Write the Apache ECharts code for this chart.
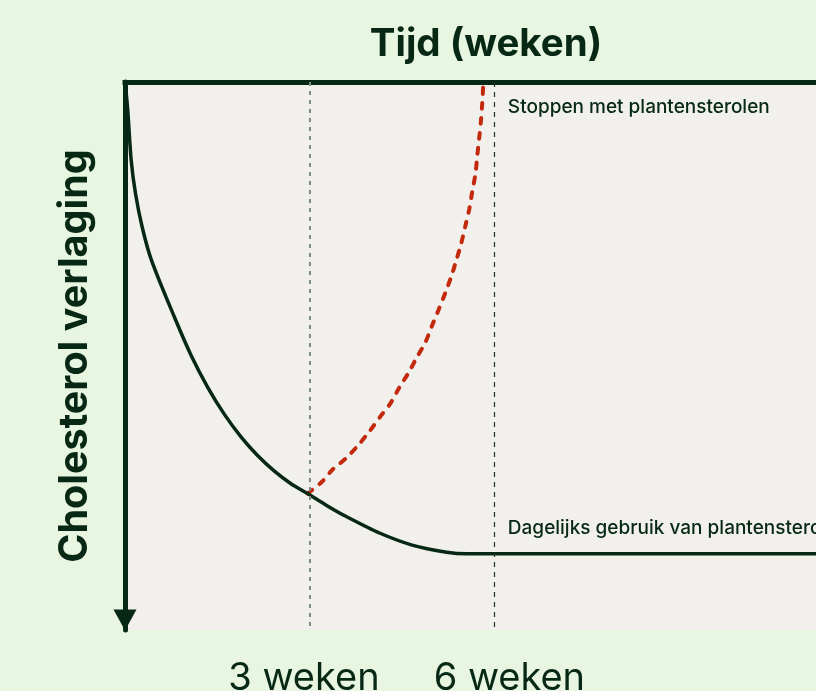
<!DOCTYPE html>
<html>
<head>
<meta charset="UTF-8">
<title>Cholesterol verlaging</title>
<script src="https://cdn.jsdelivr.net/npm/echarts@6/dist/echarts.min.js"></script>
</head>
<body style="margin:0;background:#e8f5e1;">
<div id="main" style="width:816px;height:691px;"></div>
<script>
// dagelijks gebruik: weken -> verlaging (0 = boven, 100 = onder)
var dailyWeeks = [0, 0.041, 0.10, 0.17, 0.28, 0.43, 0.80, 1.08, 1.35, 1.62, 1.89, 2.16, 2.43, 2.70, 2.97, 3.30, 3.60, 4.14, 4.67, 5.23, 5.56, 6, 8, 11.3];
var dailyValues = [0, 4.6, 14.2, 20.3, 26.5, 32.5, 42.8, 50.0, 55.8, 60.7, 64.8, 68.2, 71.0, 73.3, 75.1, 77.4, 79.3, 82.3, 84.5, 85.8, 86.1, 86.1, 86.1, 86.1];
// stoppen na 3 weken
var stopWeeks = [2.97, 3.20, 3.37, 3.60, 3.80, 3.98, 4.15, 4.32, 4.46, 4.61, 4.74, 4.89, 5.00, 5.10, 5.21, 5.31, 5.39, 5.47, 5.54, 5.60, 5.65, 5.70, 5.73, 5.76, 5.79, 5.81, 5.83];
var stopValues = [75.1, 73.0, 70.8, 68.6, 66.2, 63.7, 61.1, 58.6, 55.8, 53.1, 50.4, 47.4, 44.3, 41.6, 38.5, 35.4, 32.5, 29.4, 26.1, 23.2, 19.9, 16.8, 13.5, 10.4, 7.1, 4.0, 0];
var tickWeeks = [3, 6];
var tickLabels = ['3 weken', '6 weken'];
var notes = ['Stoppen met plantensterolen', 'Dagelijks gebruik van plantensterolen'];
var noteValues = [4.7, 81.5];

var dark = '#062814';
var font = 'Inter';

function pairs(xs, ys) {
	var out = [];
	for (var i = 0; i < xs.length; i++) out.push([xs[i], ys[i]]);
	return out;
}

var myChart = echarts.init(document.getElementById('main'));
var option = {
	backgroundColor: '#e8f5e1',
	animation: false,
	grid: {
		left: 125, right: 0, top: 82, bottom: 61, outerBoundsMode: 'none',
		show: true, backgroundColor: '#f1f0ec', borderWidth: 0
	},
	graphic: [{
		type: 'text', x: 486, y: 44,
		style: { text: 'Tijd (weken)', fontSize: 38.5, fontWeight: 'bold', fontFamily: font, fill: dark, textAlign: 'center', textVerticalAlign: 'middle' }
	}],
	xAxis: [{
		type: 'value', position: 'bottom', min: 0, max: 11.24,
		axisLine: { lineStyle: { color: '#5a7262', width: 1.5 } },
		axisTick: { show: false },
		splitLine: { show: false },
		axisLabel: {
			customValues: tickWeeks,
			margin: 30,
			formatter: function (v) {
				var i = tickWeeks.indexOf(v);
				return i === 0 ? '{a|' + tickLabels[0] + '}' : '{b|' + tickLabels[1] + '}';
			},
			rich: {
				a: { fontSize: 38, fontFamily: font, color: dark, padding: [0, 11, 0, 0] },
				b: { fontSize: 38, fontFamily: font, color: dark, padding: [0, 0, 0, 31] }
			}
		}
	}, {
		type: 'value', position: 'top', min: 0, max: 11.24,
		axisLine: { lineStyle: { color: dark, width: 5, cap: 'square' } },
		axisTick: { show: false }, axisLabel: { show: false }, splitLine: { show: false }
	}],
	yAxis: {
		type: 'value', min: 0, max: 100, inverse: true,
		name: 'Cholesterol verlaging', nameLocation: 'middle', nameRotate: 90, nameGap: 30,
		nameTextStyle: { fontSize: 39.5, fontWeight: 'bold', fontFamily: font, color: dark },
		axisLine: {
			show: true, symbol: ['triangle', 'none'], symbolSize: [23, 21], symbolOffset: [10, 0],
			lineStyle: { color: dark, width: 5 }
		},
		axisTick: { show: false }, axisLabel: { show: false }, splitLine: { show: false }
	},
	series: [{
		name: 'stoppen', type: 'line', z: 2,
		data: pairs(stopWeeks, stopValues),
		showSymbol: false, smooth: 0.3,
		lineStyle: { color: '#c32a0d', width: 4, type: [6, 9], cap: 'round' },
		markLine: {
			silent: true, symbol: ['none', 'none'], label: { show: false },
			data: [
				{ xAxis: tickWeeks[0], lineStyle: { color: '#7b8d85', width: 2, type: [4, 5] } },
				{ xAxis: tickWeeks[1], lineStyle: { color: '#1f3528', width: 1.2, type: [5, 5] } }
			]
		}
	}, {
		name: 'dagelijks', type: 'line', z: 3,
		data: pairs(dailyWeeks, dailyValues),
		showSymbol: false, smooth: 0.3,
		lineStyle: { color: dark, width: 3.5 },
		markPoint: {
			symbol: 'circle', symbolSize: 0, silent: true,
			label: { show: true, position: 'right', distance: 14, formatter: '{b}', fontSize: 19, fontWeight: 500, fontFamily: font, color: dark },
			data: [
				{ name: notes[0], coord: [tickWeeks[1], noteValues[0]] },
				{ name: notes[1], coord: [tickWeeks[1], noteValues[1]] }
			]
		}
	}]
};
myChart.setOption(option, true);
</script>
</body>
</html>
